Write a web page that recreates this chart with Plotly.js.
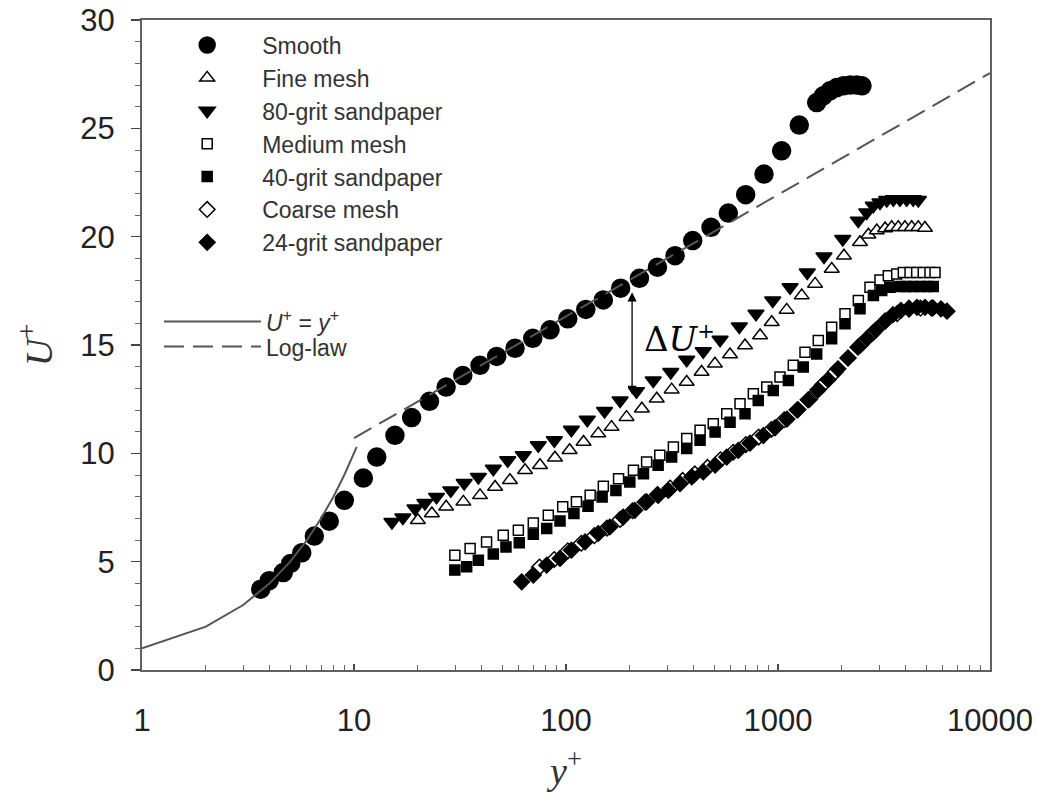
<!DOCTYPE html>
<html><head><meta charset="utf-8">
<script src="https://cdn.plot.ly/plotly-3.0.1.min.js"></script>
<style>body{margin:0;background:#fff}#chart{width:1038px;height:802px}</style>
</head><body><div id="chart"></div>
<script>
// ---------- data ----------
const smoothX = [3.63,3.98,4.64,5.03,5.67,6.5,7.64,9.0,11.07,12.8,15.6,18.7,22.7,27.2,32.6,39.3,47.1,57.5,69.7,84.1,102,124,150,181,222,270,327,396,483,583,704,859,1040,1260,1523,1636,1759,1892,2033,2187,2350,2490];
const smoothY = [3.73,4.12,4.50,4.92,5.41,6.18,6.87,7.83,8.86,9.83,10.83,11.65,12.40,13.06,13.59,14.06,14.47,14.85,15.31,15.70,16.21,16.64,17.08,17.62,18.08,18.59,19.12,19.82,20.43,21.09,21.94,22.89,23.96,25.15,26.19,26.5,26.73,26.88,26.96,27.0,27.0,26.96];

const fineX = [20.0,23.3,27.2,32.8,39.3,46.3,54.4,64.1,75.4,88.7,104,121,142,164,193,228,268,315,371,436,504,594,699,823,934,1099,1294,1496,1793,2047,2436,2669,2923,3200,3438,3693,3970,4272,4590,4933];
const fineY = [6.91,7.22,7.53,7.76,8.06,8.45,8.76,9.22,9.45,9.80,10.14,10.52,10.91,11.21,11.67,12.06,12.52,12.94,13.29,13.75,14.13,14.56,14.98,15.44,16.05,16.62,17.28,17.82,18.51,19.12,19.74,20.09,20.28,20.38,20.43,20.43,20.43,20.43,20.43,20.4];

const grit80X = [15.1,17.0,19.4,21.6,24.5,28.6,33.1,38.6,45.4,53.1,62.9,74.0,88.1,106,126,152,180,215,258,312,371,444,533,657,787,944,1140,1374,1648,2020,2392,2620,2815,3028,3258,3500,3760,4045,4345,4590];
const grit80Y = [6.83,7.04,7.45,7.71,7.99,8.29,8.63,8.91,9.29,9.68,9.91,10.37,10.6,11.09,11.55,11.95,12.44,12.87,13.36,13.75,14.32,14.71,15.24,15.85,16.44,17.05,17.66,18.35,19.08,19.89,20.74,21.12,21.43,21.58,21.69,21.73,21.73,21.73,21.73,21.69];

const mediumX = [29.9,35.3,42.2,50.6,59.6,70.1,82.5,96.5,112,130,150,177,208,240,277,321,371,429,495,573,662,765,885,1022,1181,1341,1549,1791,2070,2393,2716,3028,3315,3630,3900,4197,4510,4845,5210,5505];
const mediumY = [5.30,5.61,5.91,6.22,6.45,6.79,7.14,7.53,7.76,8.06,8.48,8.83,9.22,9.60,9.91,10.29,10.68,11.06,11.37,11.83,12.29,12.75,13.06,13.52,14.06,14.67,15.21,15.82,16.44,17.05,17.66,18.0,18.2,18.28,18.35,18.35,18.35,18.35,18.35,18.35];

const grit40X = [29.9,34.0,38.6,45.4,52.1,60.2,70.1,81.1,93.7,109,127,148,172,200,232,272,315,371,429,505,594,699,807,950,1119,1316,1522,1791,2070,2437,2818,3085,3375,3760,4050,4350,4700,5050,5400];
const grit40Y = [4.61,4.76,5.07,5.35,5.68,5.87,6.27,6.53,6.88,7.22,7.56,7.99,8.29,8.68,9.06,9.45,9.83,10.22,10.6,10.98,11.44,11.83,12.44,12.90,13.36,13.98,14.59,15.29,15.98,16.67,17.28,17.51,17.66,17.7,17.7,17.7,17.7,17.7,17.7];

const coarseX = [75,88,102,118,136,156,180,206,236,270,310,355,405,465,535,615,705,810,930,1070,1230,1410,1620,1860,2140,2450,2800,3200,3650,4150,4700,5300];
const coarseY = [4.75,5.1,5.5,5.85,6.2,6.55,6.95,7.35,7.75,8.1,8.4,8.75,9.05,9.35,9.7,10.05,10.4,10.75,11.1,11.55,12.0,12.5,13.15,13.75,14.4,15.0,15.55,16.1,16.45,16.65,16.7,16.7];

const grit24X = [61.8,70.1,81.1,93.7,106,123,142,161,186,211,240,272,304,345,392,444,505,573,650,738,853,968,1101,1242,1387,1545,1722,1918,2138,2382,2628,2899,3198,3486,3800,4146,4525,4935,5383,5872,6270];
const grit24Y = [4.07,4.38,4.84,5.15,5.53,5.91,6.30,6.60,7.06,7.37,7.76,8.06,8.29,8.60,8.91,9.14,9.45,9.83,10.14,10.47,10.82,11.18,11.58,12.02,12.47,12.93,13.4,13.9,14.4,14.9,15.3,15.7,16.1,16.4,16.6,16.7,16.74,16.74,16.71,16.67,16.56];

const viscousX = [1,2,3,4,5,6,7,8,9,10,10.3];
const viscousY = [1,2,3,4,5,6,7,8,9,10,10.3];

const logLawX = [10,10000];
const logLawY = [10.7,27.55];

const xTickVals = [1,10,100,1000,10000];
const xTickText = ['1','10','100','1000','10000'];
const yTickVals = [0,5,10,15,20,25,30];

const deltaX = 205;
const deltaTop = 17.5;
const deltaBottom = 12.7;

// ---------- traces ----------
const lc = '#000';
function mk(name, x, y, symbol, size, fill, grp){
  return {type:'scatter', mode:'markers', name:name, x:x, y:y, legend:'legend', legendgroup:grp,
    marker:{symbol:symbol, size:size, color:fill, line:{color:lc, width:1.5}}};
}
const traces = [
  mk('Smooth', smoothX, smoothY, 'circle', 18, '#000', 'g1'),
  mk('Fine mesh', fineX, fineY, 'triangle-up', 13, '#fff', 'g2'),
  mk('80-grit sandpaper', grit80X, grit80Y, 'triangle-down', 14, '#000', 'g3'),
  mk('Medium mesh', mediumX, mediumY, 'square', 10, '#fff', 'g4'),
  mk('40-grit sandpaper', grit40X, grit40Y, 'square', 10, '#000', 'g5'),
  mk('Coarse mesh', coarseX, coarseY, 'diamond', 12, '#fff', 'g6'),
  mk('24-grit sandpaper', grit24X, grit24Y, 'diamond', 12, '#000', 'g7'),
  {type:'scatter', mode:'lines', name:'<i>U</i><sup>+</sup> = <i>y</i><sup>+</sup>', x:viscousX, y:viscousY,
    legend:'legend2', line:{color:'#555', width:2}},
  {type:'scatter', mode:'lines', name:'Log-law', x:logLawX, y:logLawY,
    legend:'legend3', line:{color:'#555', width:2, dash:'20px,9px'}}
];

const tickFont = {family:'Liberation Sans, Arial, sans-serif', size:31, color:'#222'};
const legFont = {family:'Liberation Sans, Arial, sans-serif', size:23, color:'#333'};
const titleFont = {family:'Liberation Serif, Times New Roman, serif', size:38, color:'#333'};

const layout = {
  width:1038, height:802,
  paper_bgcolor:'#fff', plot_bgcolor:'#fff',
  margin:{l:142, r:48, t:20, b:132},
  showlegend:true,
  legend:{x:0.012, y:0.9946, xanchor:'left', yanchor:'top', bgcolor:'rgba(0,0,0,0)',
    font:legFont, traceorder:'grouped', tracegroupgap:0, itemwidth:100},
  legend2:{x:0.02, y:0.569, xanchor:'left', yanchor:'top', bgcolor:'rgba(0,0,0,0)',
    font:legFont, itemwidth:97},
  legend3:{x:0.02, y:0.5305, xanchor:'left', yanchor:'top', bgcolor:'rgba(0,0,0,0)',
    font:legFont, itemwidth:97},
  xaxis:{type:'log', range:[0,4], tickvals:xTickVals, ticktext:xTickText,
    showgrid:false, zeroline:false, showline:true, linecolor:'#606060', linewidth:2, mirror:true,
    ticks:'inside', ticklen:6, tickwidth:1.5, tickcolor:'#444',
    minor:{ticks:'inside', ticklen:5, tickwidth:1, tickcolor:'#666', dtick:'D1'},
    tickfont:tickFont, ticklabelstandoff:22,
    title:{text:'<i>y</i><sup>+</sup>', font:titleFont, standoff:20}},
  yaxis:{range:[0,30], tickvals:yTickVals,
    showgrid:false, zeroline:false, showline:true, linecolor:'#606060', linewidth:2, mirror:true,
    ticks:'outside', ticklen:9, tickwidth:1.5, tickcolor:'#444',
    minor:{ticks:'outside', ticklen:5, tickwidth:1, tickcolor:'#666', dtick:1},
    tickfont:tickFont, ticklabelstandoff:10,
    title:{text:'<i>U</i><sup>+</sup>', font:titleFont, standoff:16}},
  annotations:[
    {x:Math.log10(deltaX), y:deltaBottom, ax:Math.log10(deltaX), ay:deltaTop, axref:'x', ayref:'y', xref:'x', yref:'y',
     text:'', showarrow:true, arrowhead:2, startarrowhead:2, arrowside:'end+start', arrowsize:1.4, arrowwidth:1.3, arrowcolor:'#000'},
    {x:Math.log10(deltaX)+0.045, y:(deltaTop+deltaBottom)/2+0.2, xref:'x', yref:'y', xanchor:'left', yanchor:'middle',
     text:'Δ<i>U</i><span style="font-size:30px"><sup>+</sup></span>', showarrow:false, font:{family:'DejaVu Serif, Liberation Serif, serif', size:34, color:'#000'}}
  ]
};
Plotly.newPlot('chart', traces, layout, {displayModeBar:false, staticPlot:true});
</script>
</body></html>
